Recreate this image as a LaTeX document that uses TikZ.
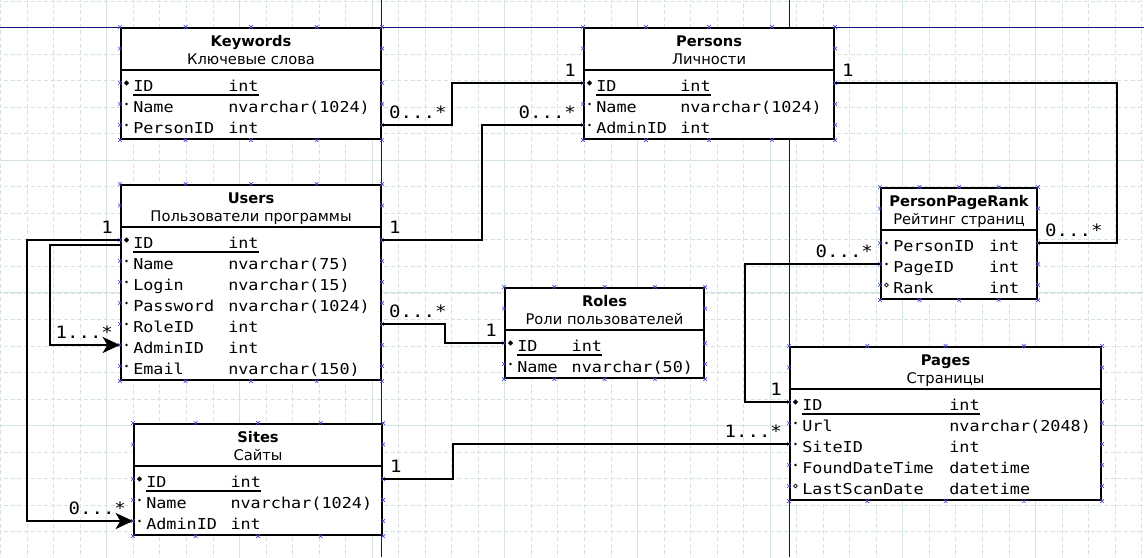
\documentclass[tikz,border=0pt]{standalone}
\usepackage{fontspec}
\setmainfont{DejaVu Sans}
\newfontfamily\dbmono{DejaVu Sans Mono}[FakeStretch=1.12]
\usepackage{tikz}
\usetikzlibrary{%
	calc,%
	arrows.meta%
}
\definecolor{gridc}{RGB}{212,228,224}
\definecolor{pagec}{RGB}{16,16,128}
\definecolor{ptc}{RGB}{70,70,210}
\newcommand{\fcol}[3]{\makebox[#1][l]{#2}#3}
\newcommand{\pkey}[2]{\rlap{\rule[-3.5pt]{\dimexpr#1+22.9pt\relax}{1pt}}\fcol{#1}{ID}{#2}}
\newcommand{\cpt}[1]{\draw[cp] #1 +(-1.8,-1.8) -- +(1.8,1.8) +(-1.8,1.8) -- +(1.8,-1.8);}
\tikzset{
	tbl/.style={draw,fill=white,line width=1.6pt,inner sep=0pt,anchor=north west},
	tsep/.style={line width=1.6pt},
	ttl/.style={anchor=base,inner sep=0pt,font=\bfseries\fontsize{11}{13}\selectfont},
	sub/.style={anchor=base,inner sep=0pt,font=\fontsize{11}{13}\selectfont},
	fld/.style={anchor=base west,inner sep=0pt,text height=12pt,text depth=0pt,
		font=\dbmono\fontsize{11.25}{13}\selectfont},
	conn/.style={line width=1.6pt},
	lr/.style={anchor=base west,xshift=4.5pt,yshift=5.25pt,inner sep=0pt,
		font=\dbmono\fontsize{12.75}{14}\selectfont},
	ll/.style={anchor=base east,xshift=-4.5pt,yshift=5.25pt,inner sep=0pt,
		font=\dbmono\fontsize{12.75}{14}\selectfont},
	cp/.style={ptc,line width=0.5pt},
	gmin/.style={gridc,line width=0.5pt,dash pattern=on 3pt off 2pt},
	gmaj/.style={gridc,line width=0.5pt},
	pg/.style={pagec,line width=0.75pt}
}

\begin{document}
\begin{tikzpicture}[x=0.75pt,y=-0.75pt,>={Stealth[length=13pt,width=12pt,inset=3.5pt]}]
	\useasboundingbox (0,0) rectangle (1144,557);
	\fill[white] (0,0) rectangle (1144,557);
	% grid and page breaks
	\begin{scope}
		\clip (0,0) rectangle (1144,557);
		\draw[gmin,shift={(0.6,1)}] (-30,-30) grid[step=19.9pt] (1170,580);
		\foreach \gx in {106.7,239.3,372,504.7,637.3,770,902.7,1035.3}
			\draw[gmaj] (\gx,0) -- (\gx,557);
		\foreach \gy in {27.5,160.2,292.8,425.5}
			\draw[gmaj] (0,\gy) -- (1144,\gy);
	\end{scope}
	\draw[pg] (381,0) -- (381,557);
	\draw[pg] (789,0) -- (789,557);
	\draw[pg] (0,27) -- (1144,27);
	%
	% Keywords
	\node[tbl,minimum width=195pt,minimum height=83.25pt] (kw) at (120,27) {};
	\node[ttl] (kw-t) at ($(kw.north)+(0,19)$) {Keywords};
	\node[sub] (kw-s) at ($(kw-t.base)+(0,18.7)$) {Ключевые слова};
	\draw[tsep] ($(kw.north west)+(0,43)$) -- ($(kw.north east)+(0,43)$);
	\node[fld] (kw-id) at ($(kw.north west)+(13,64)$) {\pkey{71.25pt}{int}};
	\node[fld] (kw-name) at ($(kw-id.base west)+(0,21)$) {\fcol{71.25pt}{Name}{nvarchar(1024)}};
	\node[fld] (kw-pid) at ($(kw-name.base west)+(0,21)$) {\fcol{71.25pt}{PersonID}{int}};
	%
	% Persons
	\node[tbl,minimum width=187.5pt,minimum height=83.25pt] (pe) at (583,27) {};
	\node[ttl] (pe-t) at ($(pe.north)+(0,19)$) {Persons};
	\node[sub] (pe-s) at ($(pe-t.base)+(0,18.7)$) {Личности};
	\draw[tsep] ($(pe.north west)+(0,43)$) -- ($(pe.north east)+(0,43)$);
	\node[fld] (pe-id) at ($(pe.north west)+(13,64)$) {\pkey{63pt}{int}};
	\node[fld] (pe-name) at ($(pe-id.base west)+(0,21)$) {\fcol{63pt}{Name}{nvarchar(1024)}};
	\node[fld] (pe-aid) at ($(pe-name.base west)+(0,21)$) {\fcol{63pt}{AdminID}{int}};
	%
	% Users
	\node[tbl,minimum width=195pt,minimum height=146.25pt] (us) at (120,184) {};
	\node[ttl] (us-t) at ($(us.north)+(0,19)$) {Users};
	\node[sub] (us-s) at ($(us-t.base)+(0,18.7)$) {Пользователи программы};
	\draw[tsep] ($(us.north west)+(0,43)$) -- ($(us.north east)+(0,43)$);
	\node[fld] (us-id) at ($(us.north west)+(13,64)$) {\pkey{71.25pt}{int}};
	\node[fld] (us-name) at ($(us-id.base west)+(0,21)$) {\fcol{71.25pt}{Name}{nvarchar(75)}};
	\node[fld] (us-login) at ($(us-name.base west)+(0,21)$) {\fcol{71.25pt}{Login}{nvarchar(15)}};
	\node[fld] (us-pwd) at ($(us-login.base west)+(0,21)$) {\fcol{71.25pt}{Password}{nvarchar(1024)}};
	\node[fld] (us-rid) at ($(us-pwd.base west)+(0,21)$) {\fcol{71.25pt}{RoleID}{int}};
	\node[fld] (us-aid) at ($(us-rid.base west)+(0,21)$) {\fcol{71.25pt}{AdminID}{int}};
	\node[fld] (us-mail) at ($(us-aid.base west)+(0,21)$) {\fcol{71.25pt}{Email}{nvarchar(150)}};
	%
	% Roles
	\node[tbl,minimum width=149.25pt,minimum height=67.5pt] (ro) at (504,287) {};
	\node[ttl] (ro-t) at ($(ro.north)+(0,19)$) {Roles};
	\node[sub] (ro-s) at ($(ro-t.base)+(0,18.7)$) {Роли пользователей};
	\draw[tsep] ($(ro.north west)+(0,43)$) -- ($(ro.north east)+(0,43)$);
	\node[fld] (ro-id) at ($(ro.north west)+(13,64)$) {\pkey{40.8pt}{int}};
	\node[fld] (ro-name) at ($(ro-id.base west)+(0,21)$) {\fcol{40.8pt}{Name}{nvarchar(50)}};
	%
	% PersonPageRank
	\node[tbl,minimum width=117pt,minimum height=83.25pt] (pr) at (880,187) {};
	\node[ttl] (pr-t) at ($(pr.north)+(0,19)$) {PersonPageRank};
	\node[sub] (pr-s) at ($(pr-t.base)+(0,18.7)$) {Рейтинг страниц};
	\draw[tsep] ($(pr.north west)+(0,43)$) -- ($(pr.north east)+(0,43)$);
	\node[fld] (pr-pid) at ($(pr.north west)+(13,64)$) {\fcol{71.8pt}{PersonID}{int}};
	\node[fld] (pr-gid) at ($(pr-pid.base west)+(0,21)$) {\fcol{71.8pt}{PageID}{int}};
	\node[fld] (pr-rank) at ($(pr-gid.base west)+(0,21)$) {\fcol{71.8pt}{Rank}{int}};
	%
	% Pages
	\node[tbl,minimum width=233.25pt,minimum height=114.75pt] (pa) at (789,346) {};
	\node[ttl] (pa-t) at ($(pa.north)+(0,19)$) {Pages};
	\node[sub] (pa-s) at ($(pa-t.base)+(0,18.7)$) {Страницы};
	\draw[tsep] ($(pa.north west)+(0,43)$) -- ($(pa.north east)+(0,43)$);
	\node[fld] (pa-id) at ($(pa.north west)+(13,64)$) {\pkey{110.25pt}{int}};
	\node[fld] (pa-url) at ($(pa-id.base west)+(0,21)$) {\fcol{110.25pt}{Url}{nvarchar(2048)}};
	\node[fld] (pa-sid) at ($(pa-url.base west)+(0,21)$) {\fcol{110.25pt}{SiteID}{int}};
	\node[fld] (pa-fdt) at ($(pa-sid.base west)+(0,21)$) {\fcol{110.25pt}{FoundDateTime}{datetime}};
	\node[fld] (pa-lsd) at ($(pa-fdt.base west)+(0,21)$) {\fcol{110.25pt}{LastScanDate}{datetime}};
	%
	% Sites
	\node[tbl,minimum width=186pt,minimum height=83.25pt] (si) at (133,423) {};
	\node[ttl] (si-t) at ($(si.north)+(0,19)$) {Sites};
	\node[sub] (si-s) at ($(si-t.base)+(0,18.7)$) {Сайты};
	\draw[tsep] ($(si.north west)+(0,43)$) -- ($(si.north east)+(0,43)$);
	\node[fld] (si-id) at ($(si.north west)+(13,64)$) {\pkey{63.2pt}{int}};
	\node[fld] (si-name) at ($(si-id.base west)+(0,21)$) {\fcol{63.2pt}{Name}{nvarchar(1024)}};
	\node[fld] (si-aid) at ($(si-name.base west)+(0,21)$) {\fcol{63.2pt}{AdminID}{int}};
	%
	% key markers
	\foreach \r/\t in {kw-id/kw,pe-id/pe,us-id/us,ro-id/ro,pa-id/pa,si-id/si}
		\fill ($(\t.west |- \r)+(6.5,0)$) +(-2.6,0) -- +(0,-2.6) -- +(2.6,0) -- +(0,2.6) -- cycle;
	\foreach \r/\t in {kw-name/kw,kw-pid/kw,pe-name/pe,pe-aid/pe,us-name/us,us-login/us,
		us-pwd/us,us-rid/us,us-aid/us,us-mail/us,ro-name/ro,pr-pid/pr,pr-gid/pr,
		pa-url/pa,pa-sid/pa,pa-fdt/pa,si-name/si,si-aid/si}
		\fill ($(\t.west |- \r)+(6.5,0)$) circle (1.4);
	\foreach \r/\t in {pr-rank/pr,pa-lsd/pa}
		\draw[line width=0.6pt] ($(\t.west |- \r)+(6.5,0)$) circle (1.9);
	%
	% connection points
	\foreach \t/\n in {kw/3,pe/3,us/7,ro/2,pr/3,pa/5,si/3} {
		\foreach \p in {0,0.25,0.5,0.75,1} {
			\cpt{($(\t.north west)!\p!(\t.north east)$)}
			\cpt{($(\t.south west)!\p!(\t.south east)$)}
		}
		\cpt{($(\t.north west)+(0,21.5)$)}
		\cpt{($(\t.north east)+(0,21.5)$)}
		\foreach \k in {1,...,\n} {
			\cpt{($(\t.north west)+(0,35+21*\k)$)}
			\cpt{($(\t.north east)+(0,35+21*\k)$)}
		}
	}
	%
	% relations
	\draw[conn] (kw.east |- kw-pid) node[lr] {0...*} -- ++(70,0) |- (pe.west |- pe-id) node[ll] {1};
	\draw[conn] (us.east |- us-id) node[lr] {1} -- ++(100,0) |- (pe.west |- pe-aid) node[ll] {0...*};
	\draw[conn] (pe.east |- pe-id) node[lr] {1} -- ++(282,0) |- (pr.east |- pr-pid) node[lr] {0...*};
	\draw[conn,->] ($(us.west |- us-id)+(0,5)$) -- ++(-70,0) |- (us.west |- us-aid) node[ll] {1...*};
	\draw[conn,->] (us.west |- us-id) node[ll] {1} -- ++(-93,0) |- (si.west |- si-aid) node[ll] {0...*};
	\draw[conn] (us.east |- us-rid) node[lr] {0...*} -- ++(63,0) |- (ro.west |- ro-id) node[ll] {1};
	\draw[conn] (pr.west |- pr-gid) node[ll] {0...*} -- ++(-135,0) |- (pa.west |- pa-id) node[ll] {1};
	\draw[conn] (si.east |- si-id) node[lr] {1} -- ++(70,0) |- (pa.west |- pa-sid) node[ll] {1...*};
\end{tikzpicture}
\end{document}
